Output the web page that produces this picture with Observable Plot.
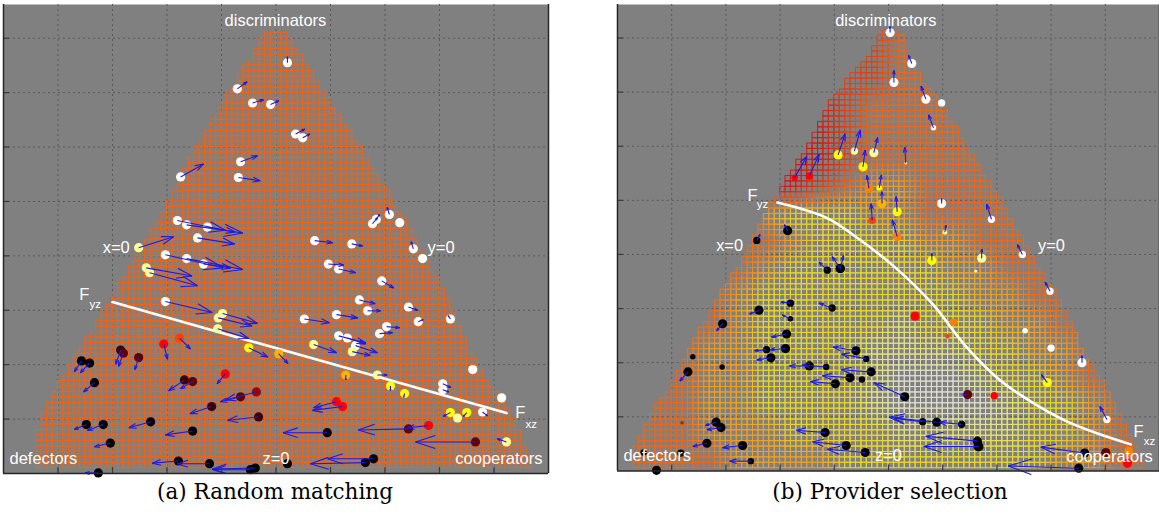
<!DOCTYPE html>
<html><head><meta charset="utf-8">
<script src="https://cdn.jsdelivr.net/npm/d3@7"></script>
<script src="https://cdn.jsdelivr.net/npm/@observablehq/plot@0.6"></script>
<style>
html,body{margin:0;padding:0;background:#fff;overflow:hidden;}
#wrap{position:relative;width:1159px;height:515px;overflow:hidden;}
.panel{position:absolute;top:0;}
.cap{position:absolute;top:478.5px;width:400px;text-align:center;font-family:"DejaVu Serif",serif;font-size:21.5px;line-height:25px;color:#000;white-space:nowrap;}
</style></head><body>
<div id="wrap">
  <div class="panel" id="pa" style="left:0px"></div>
  <div class="panel" id="pb" style="left:614px"></div>
  <div class="cap" style="left:75px">(a) Random matching</div>
  <div class="cap" style="left:690px">(b) Provider selection</div>
</div>
<script>
// ---------- data ----------
const xTicks = [1,2,3,4,5,6,7,8,9];
const yTicks = [1,2,3,4,5,6,7,8];

// point states (category -> colour)
const stateColors = {K:"#000000", W:"#ffffff", P:"#ffff99", Y:"#ffff00", A:"#ffb000", O:"#ff8000",
  Q:"#ff4000", R:"#ff0000", B:"#a00000", D:"#600000", E:"#3c0000", C:"#8b3a00"};

// [x, y, u, v, state, weight]
const randomMatching = [
  [5.21,7.55,0,0.11,"W"],[4.29,7.07,0.18,0.13,"W"],[4.57,6.81,0.20,0.06,"W"],[4.90,6.78,0.15,0.07,"W"],
  [5.36,6.24,0.17,0.09,"W"],[5.49,6.17,0.13,0.07,"W"],[4.35,5.73,0.31,0.11,"W"],[3.25,5.45,0.42,0.24,"W"],
  [4.31,5.44,0.40,-0.06,"W"],[3.19,4.65,0.88,-0.18,"W"],[3.36,4.57,1.03,-0.15,"W"],[3.74,4.53,0.51,-0.09,"W"],
  [3.56,4.33,0.68,-0.11,"W"],[2.48,4.15,0.64,0.20,"P"],[2.97,4.02,1.06,-0.24,"W"],[3.36,3.95,1.03,-0.20,"W"],
  [3.67,3.85,0.50,-0.07,"W"],[2.62,3.78,0.84,-0.15,"P"],[2.68,3.69,0.88,-0.24,"P"],[2.97,3.16,0.86,-0.20,"W"],
  [4.02,2.94,0.64,-0.18,"P"],[3.94,2.86,0.62,-0.15,"P"],[3.93,2.66,0.57,-0.18,"P"],[4.50,2.31,0.35,-0.17,"Y"],
  [2.94,2.38,0.07,-0.28,"R"],[3.23,2.49,0.20,-0.20,"Q"],[5.05,2.20,0.17,-0.18,"A"],
  [7.08,4.76,-0.04,0.13,"W"],[6.77,4.59,0.09,0.11,"W"],[6.84,4.67,0.06,0.09,"W"],[7.27,4.61,0,0,"W"],
  [5.71,4.28,0.33,-0.04,"W"],[6.39,4.22,0.20,-0.04,"W"],[7.52,4.13,-0.04,0.13,"W"],[7.69,3.95,0,0,"W"],
  [5.96,3.85,0.28,-0.02,"W"],[6.15,3.76,0.31,-0.07,"W"],[6.94,3.54,0.22,-0.13,"W"],[6.53,3.19,0.29,-0.07,"W"],
  [7.43,3.06,0.17,-0.06,"W"],[6.68,2.99,0.24,0,"W"],[8.20,2.84,-0.04,0.06,"W"],[5.52,2.84,0.46,-0.07,"W"],
  [6.11,2.92,0.39,-0.06,"W"],[7.61,2.79,0.09,0.04,"W"],[7.03,2.70,0.24,-0.02,"W"],[6.90,2.57,0.24,0.02,"W"],
  [6.15,2.53,0.50,-0.13,"W"],[6.31,2.49,0.33,-0.11,"W"],[6.46,2.35,0.40,-0.13,"W"],[6.40,2.24,0.33,-0.07,"P"],
  [5.69,2.37,0.42,-0.15,"P"],[6.28,1.81,0,-0.09,"A"],[6.86,1.81,0.18,0,"P"],[7.10,1.61,0,-0.09,"Y"],
  [7.36,1.47,-0.02,-0.07,"Y"],[8.61,1.91,0,0,"W"],[8.06,1.65,0.15,-0.07,"W"],[8.06,1.54,0.11,-0.04,"W"],
  [9.14,1.39,0,0,"W"],[8.20,1.12,-0.13,-0.07,"Y"],[8.33,1.02,0,0,"P"],[8.50,1.12,-0.06,-0.07,"Y"],
  [8.79,1.13,0.09,-0.07,"W"],[6.11,1.32,-0.42,-0.11,"R"],[6.22,1.23,-0.55,-0.07,"R"],[5.94,0.75,-0.81,0,"K"],
  [7.80,0.88,-0.39,-0.04,"R"],[7.43,0.82,-0.92,-0.02,"D"],[8.66,0.58,-1.10,0,"D"],[9.23,0.58,-0.17,0.06,"P"],
  [6.79,0.27,-0.84,0,"K"],[6.64,0.20,-1.01,-0.02,"K"],[5.21,0.18,0,0,"K"],
  [2.15,2.27,-0.09,-0.26,"E"],[2.20,2.21,-0.09,-0.24,"D"],[2.48,2.13,-0.07,-0.22,"D"],[1.43,2.07,-0.13,-0.20,"K"],
  [1.58,2.03,-0.17,-0.18,"K"],[1.67,1.67,-0.20,-0.17,"K"],[4.07,1.83,-0.15,-0.18,"R"],[3.32,1.72,-0.29,-0.20,"E"],
  [3.47,1.69,-0.22,-0.13,"D"],[4.35,1.41,-0.37,-0.09,"D"],[4.64,1.50,-0.57,-0.15,"B"],[3.82,1.23,-0.40,-0.13,"E"],
  [4.68,1.04,-0.57,-0.06,"E"],[2.70,0.95,-0.40,-0.11,"K"],[1.52,0.90,-0.22,-0.09,"K"],[1.83,0.90,-0.29,-0.11,"K"],
  [3.47,0.78,-0.50,-0.07,"K"],[1.96,0.56,-0.29,-0.07,"K"],[3.21,0.23,-0.48,-0.04,"K"],[3.78,0.18,-0.59,0,"K"],
  [4.53,0.07,-0.68,0,"K"],[4.62,0.10,-0.79,-0.02,"K"],[1.74,0.01,-0.24,0,"K"]
];

const providerSelection = [
  [5.03,8.10,0,0.11,"W"],[5.10,7.18,0,0.22,"W"],[5.43,7.53,-0.06,0.15,"W"],[5.69,6.87,-0.09,0.24,"W"],
  [5.98,6.80,0,0,"W",0.8],[5.83,6.34,-0.09,0.24,"W",0.6],[4.07,5.84,0.13,0.39,"Y"],[4.37,5.91,0.11,0.39,"P",0.8],
  [4.73,5.88,0.07,0.28,"P"],[4.53,5.62,0.04,0.31,"Y"],[3.27,5.42,0.22,0.39,"R",0.7],[3.54,5.45,0.18,0.40,"R",0.8],
  [4.64,5.22,-0.04,0.24,"O"],[4.83,5.23,0.04,0.24,"Y",0.6],[4.88,4.94,0,0.22,"A"],[5.16,4.79,-0.02,0.28,"Y"],
  [4.70,4.63,-0.02,0.31,"Q",0.8],[5.16,4.33,-0.09,0.31,"O"],[3.14,4.44,-0.06,0.11,"K"],[2.57,4.26,0.06,0.11,"K",0.8],
  [5.98,4.94,0,0.09,"W"],[6.90,4.65,-0.09,0.28,"W",0.8],[6.04,4.41,0.02,0.13,"P",0.5],[5.80,3.89,0,0.13,"Y"],
  [6.72,3.93,0,0.17,"P"],[6.61,3.69,0,0,"W",0.3],[3.87,3.71,-0.15,0.15,"K",0.8],[4.11,3.74,0.06,0.24,"K"],
  [4.11,3.74,-0.15,0.22,"K"],[5.32,5.69,-0.02,0.29,"P",0.3],[7.47,4.00,-0.09,0.18,"W",0.8],[7.98,3.32,-0.09,0.17,"W",0.8],
  [7.52,2.59,0,0,"W",0.6],[8.00,2.27,0,0,"W",0.8],[8.57,2.00,0,0.13,"W"],[7.93,1.63,-0.11,0.15,"Y"],
  [5.49,2.86,0,0,"R"],[6.20,2.75,0,0,"O",0.8],[6.09,2.49,0,0,"Q",0.5],[6.46,1.41,-0.09,0,"D"],
  [6.95,1.39,0,0,"R",0.8],[9.03,0.95,-0.13,0.24,"W",0.8],[5.30,1.37,-0.57,0.26,"K"],[5.89,0.90,-0.88,0.09,"K"],
  [6.35,0.86,-0.42,0.04,"K",0.8],[5.63,0.91,-0.53,0.06,"K",0.8],[6.66,0.45,-1.01,0,"K",1.1],[6.64,0.55,-0.95,0.09,"K"],
  [8.62,0.33,-0.81,0.11,"K"],[9.01,0.34,0,0,"D"],[9.43,0.36,0,0,"O"],[9.41,0.14,0,0,"R"],
  [8.51,0.05,-1.30,0.04,"K"],[2.61,2.97,-0.17,-0.07,"K"],[3.19,3.10,-0.17,0.02,"K",0.8],[3.19,2.81,-0.15,0.07,"K",0.6],
  [3.96,3.01,-0.24,0.09,"K",0.8],[1.94,2.72,-0.11,-0.13,"K"],[3.12,2.53,-0.28,-0.06,"K"],[3.10,2.26,-0.29,-0.02,"K"],
  [2.75,2.24,-0.22,-0.02,"K",0.8],[2.83,2.09,-0.26,-0.04,"K"],[1.39,2.11,0,0,"K",0.6],[1.93,1.92,0,0,"K",0.6],
  [1.30,1.83,-0.15,-0.17,"K"],[4.40,2.22,-0.42,0.07,"K"],[4.59,2.07,-0.46,0.09,"K",0.7],[3.54,1.94,-0.37,0,"K"],
  [3.85,1.92,-0.44,0.04,"K",0.7],[4.68,1.83,-0.55,0.04,"K"],[4.29,1.72,-0.51,0.04,"K"],[4.51,1.69,0,0,"K",0.7],
  [4.02,1.61,-0.46,0.04,"K"],[1.82,0.90,-0.20,-0.06,"K"],[1.91,0.80,-0.26,-0.04,"K"],[3.83,0.71,-0.53,0.04,"K"],
  [1.65,0.51,-0.26,-0.06,"K"],[2.31,0.47,-0.37,-0.04,"K"],[4.22,0.47,-0.62,0.07,"K"],[4.57,0.34,-0.70,0.06,"K"],
  [2.46,0.18,-0.39,0,"K",0.7],[1.17,0.33,0,0,"K",0.8],[0.48,0.34,0,0,"K",0.7],[0.72,0.01,0,0,"K"],
  [1.19,0.89,0,0,"C",0.4]
];

// white threshold lines
const fLineA = [[2.0,3.15],[9.23,1.11]];
const fCurveB = [[2.95,4.96],[3.85,4.68],[4.46,4.28],[5.10,3.78],[5.80,3.10],[6.42,2.31],[7.03,1.70],
  [7.63,1.28],[8.26,0.93],[8.86,0.69],[9.47,0.49]];

// grid boundary knots [y, x]
const edgeLeftA = [[0.1,0.59],[0.78,0.63],[1.39,0.88],[2.26,1.41],[2.87,1.80],[3.49,2.17],[4.10,2.52],
  [4.70,2.90],[5.74,3.42],[6.98,4.15],[8.1,4.82]];
const edgeRightA = [[0.1,9.72],[0.60,9.52],[1.02,9.36],[1.70,8.88],[2.31,8.51],[2.94,8.26],[3.54,7.96],
  [4.41,7.50],[5.38,6.92],[6.85,5.97],[8.1,5.18]];
const edgeLeftB = [[0,0.29],[0.42,0.35],[1.06,0.64],[1.70,1.10],[1.94,1.21],[2.57,1.52],[3.21,1.89],
  [3.84,2.31],[4.41,2.57],[5.01,2.90],[5.62,3.27],[6.24,3.67],[6.85,3.96],[7.83,4.77],[8.2,4.88]];
const edgeRightB = [[0,9.72],[0.18,9.65],[0.78,9.41],[1.39,9.10],[2.01,8.68],[2.61,8.40],[3.22,8.13],
  [3.85,7.71],[4.41,7.39],[5.01,7.06],[5.62,6.66],[6.24,6.29],[6.85,5.89],[7.46,5.47],[8.2,5.19]];

// cell tone level in panel (b), sampled on 0.5-unit bins; top row (y 8.0-8.5) first, x 0..10
// R=red r=red-orange o=orange a=amber y=yellow p=pale w=whitish
const cellTonesB = [
  "rrrrrrrrrroooooooooo",
  "rrrrrrrrrroooooooooo",
  "rrrrrrrrrroooooooooo",
  "RRRRRRRRrooooooooooo",
  "RRRRRRRRrooooooooooo",
  "RRRRRRRRrooooooooooo",
  "RRRRRRRroaaooooooooo",
  "oooooayyyaaooooooooo",
  "ooooooayyyyaaooooooo",
  "oooooayyyyyyaaoooooo",
  "ooooayyyyyyyyaaooooo",
  "ooooayyyyypyyyaaoooo",
  "oooaayyyyppppyyaaooo",
  "oooaayyyypwwwpyyaooo",
  "oooaayyyypwwwwpyyaoo",
  "oooaaayyyypppppyyaoo",
  "ooooaaaayyyyyyyyaaoo"
];
const toneLevels = {R:0, r:1, o:2, a:3, y:4, p:5, w:6};
const tonePalette = ["#cc1c16","#dc4218","#ec681c","#eea024","#e8d82c","#e6e47c","#deded0"];

const labelsA = [["discriminators",4.99,8.23,"middle"],["defectors",0.11,0.18,"start"],["cooperators",8.29,0.18,"start"],
  ["z=0",4.75,0.18,"start"],["x=0",1.82,4.06,"start"],["y=0",7.78,4.06,"start"],["F",1.39,3.19,"start"],["F",9.39,1.02,"start"]];
const subsA = [["yz",1.58,3.05],["xz",9.58,0.84]];
const labelsB = [["discriminators",4.95,8.23,"middle"],["defectors",0.11,0.18,"start"],["cooperators",8.28,0.17,"start"],
  ["z=0",4.75,0.18,"start"],["x=0",1.82,4.06,"start"],["y=0",7.76,4.06,"start"],["F",2.40,4.99,"start"],["F",9.52,0.63,"start"]];
const subsB = [["yz",2.57,4.85],["xz",9.71,0.47]];

// ---------- helpers ----------
function edgeAt(knots, y) {
  if (y <= knots[0][0]) return knots[0][1];
  const last = knots[knots.length - 1];
  if (y >= last[0]) return last[1];
  for (let i = 0; i < knots.length - 1; i++) {
    const a = knots[i], b = knots[i + 1];
    if (y >= a[0] && y <= b[0]) return a[1] + (b[1] - a[1]) * (y - a[0]) / (b[0] - a[0]);
  }
  return last[1];
}
function buildCells(bottom, rows, left, right, colorOf) {
  const cells = [];
  for (let k = 0; k < rows; k++) {
    const y1 = bottom + k * 0.1, y2 = y1 + 0.1, yc = y1 + 0.05;
    const L = edgeAt(left, yc), R = edgeAt(right, yc);
    for (let i = 0; i < 100; i++) {
      const x1 = i * 0.1, xc = x1 + 0.05;
      if (xc >= L && xc <= R) cells.push({x1, x2: x1 + 0.1, y1, y2, color: colorOf(xc, yc)});
    }
  }
  return cells;
}
// tone at a point: blend of the four nearest sampled bins
const toneRamp = d3.piecewise(d3.interpolateRgb, tonePalette);
function toneAt(xc, yc) {
  const lv = (c, j) => {
    c = Math.max(0, Math.min(19, c)); j = Math.max(0, Math.min(16, j));
    return toneLevels[cellTonesB[16 - j][c]];
  };
  const fx = xc / 0.5 - 0.5, fy = yc / 0.5 - 0.5;
  const c0 = Math.floor(fx), j0 = Math.floor(fy), tx = fx - c0, ty = fy - j0;
  const v = lv(c0, j0) * (1 - tx) * (1 - ty) + lv(c0 + 1, j0) * tx * (1 - ty)
          + lv(c0, j0 + 1) * (1 - tx) * ty + lv(c0 + 1, j0 + 1) * tx * ty;
  return d3.color(toneRamp(v / 6)).formatHex();
}
const cellsA = buildCells(0.1, 80, edgeLeftA, edgeRightA, () => "#ee6418");
const cellsB = buildCells(0.05, 81, edgeLeftB, edgeRightB, toneAt);

function arrowParts(pts) {
  const ar = pts.filter(d => d[2] !== 0 || d[3] !== 0);
  const shafts = ar.map(([x, y, u, v]) => ({x1: x, y1: y, x2: x + u, y2: y + v}));
  const a = 0.33, b = 0.33;
  const heads = ar.flatMap(([x, y, u, v]) => {
    const tx = x + u, ty = y + v;
    return [{x1: tx, y1: ty, x2: tx - a * (u + b * v), y2: ty - a * (v - b * u)},
            {x1: tx, y1: ty, x2: tx - a * (u - b * v), y2: ty - a * (v + b * u)}];
  });
  return {shafts, heads};
}

function panel({width, marginRight, pts, cells, fline, curve, labels, subs}) {
  const {shafts, heads} = arrowParts(pts);
  const txt = {fill: "white", fontFamily: "Liberation Sans, Arial, sans-serif", lineAnchor: "bottom", stroke: "none"};
  return Plot.plot({
    width, height: 474, marginLeft: 3, marginRight, marginTop: 4, marginBottom: 1,
    style: {background: "transparent", overflow: "visible"},
    x: {domain: [0, 10], axis: null},
    y: {domain: [0, 8.62], axis: null},
    color: {type: "identity"},
    r: {type: "linear", domain: [0, 1], range: [0, 4.6]},
    marks: [
      Plot.frame({fill: "#808080", stroke: "none"}),
      Plot.gridX(xTicks, {stroke: "#585858", strokeOpacity: 1, strokeDasharray: "2,3"}),
      Plot.gridY(yTicks, {stroke: "#585858", strokeOpacity: 1, strokeDasharray: "2,3"}),
      Plot.rect(cells, {x1: "x1", x2: "x2", y1: "y1", y2: "y2", stroke: "color", fill: "none", strokeWidth: 1}),
      Plot.line(fline, {x: d => d[0], y: d => d[1], stroke: "white", strokeWidth: 2.6, curve}),
      Plot.dot(pts, {x: d => d[0], y: d => d[1], r: d => (d[5] ?? 1), fill: d => stateColors[d[4]], stroke: "none", sort: null}),
      Plot.link(shafts, {x1: "x1", y1: "y1", x2: "x2", y2: "y2", stroke: "#1a1ae8", strokeWidth: 1.1}),
      Plot.link(heads, {x1: "x1", y1: "y1", x2: "x2", y2: "y2", stroke: "#1a1ae8", strokeWidth: 1.1}),
      Plot.text(labels.filter(d => d[3] === "middle"), {x: d => d[1], y: d => d[2], text: d => d[0], textAnchor: "middle", fontSize: 16.5, ...txt}),
      Plot.text(labels.filter(d => d[3] === "start"), {x: d => d[1], y: d => d[2], text: d => d[0], textAnchor: "start", fontSize: 16.5, ...txt}),
      Plot.text(subs, {x: d => d[1], y: d => d[2], text: d => d[0], textAnchor: "start", fontSize: 11.5, ...txt}),
      Plot.ruleX(xTicks, {x: d => d, y1: () => 0, y2: () => 0.11, stroke: "#3a3a3a", strokeWidth: 1.2}),
      Plot.ruleY(yTicks, {y: d => d, x1: () => 0, x2: () => 0.11, stroke: "#3a3a3a", strokeWidth: 1.2}),
      Plot.ruleX([0, 10], {stroke: "#262626", strokeWidth: 1.5}),
      Plot.ruleY([0], {stroke: "#262626", strokeWidth: 1.5})
    ]
  });
}

document.getElementById("pa").appendChild(panel({
  width: 614, marginRight: 66, pts: randomMatching, cells: cellsA, fline: fLineA, curve: "linear",
  labels: labelsA, subs: subsA
}));
document.getElementById("pb").appendChild(panel({
  width: 548, marginRight: 0, pts: providerSelection, cells: cellsB, fline: fCurveB, curve: "catmull-rom",
  labels: labelsB, subs: subsB
}));
</script>
</body></html>
